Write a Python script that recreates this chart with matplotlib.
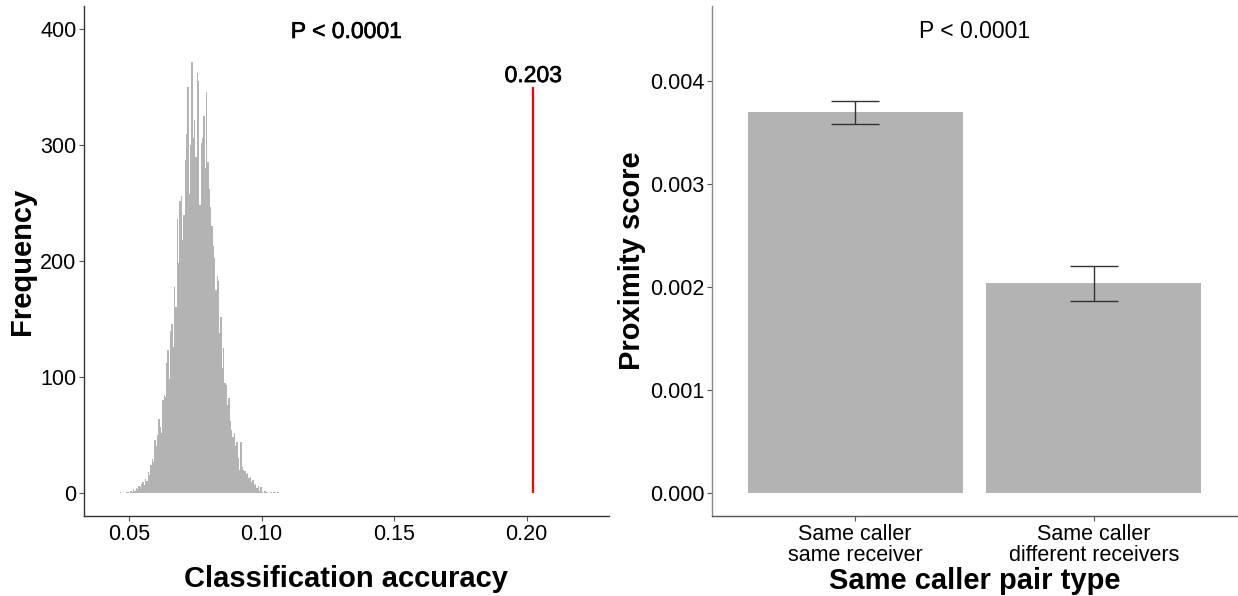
import matplotlib
matplotlib.use("Agg")
import matplotlib.pyplot as plt
import matplotlib.patheffects as pe
import numpy as np

plt.rcParams['font.family'] = ['Liberation Sans', 'DejaVu Sans']

# ---------------- data ----------------
hist_start = 0.0465
hist_binwidth = 0.0005
hist_counts = [
    1, 0, 0, 0, 0, 1, 1, 0, 2, 1,
    3, 2, 4, 3, 6, 5, 8, 9, 7, 12,
    10, 18, 15, 24, 29, 27, 46, 40, 50, 64,
    57, 52, 80, 84, 83, 112, 123, 98, 140, 146,
    126, 178, 160, 236, 198, 252, 256, 218, 240, 287,
    310, 350, 258, 300, 372, 306, 322, 290, 362, 355,
    248, 302, 306, 325, 280, 346, 285, 262, 247, 230,
    213, 203, 175, 187, 183, 138, 152, 108, 125, 95,
    93, 76, 82, 62, 54, 48, 52, 40, 44, 30,
    20, 44, 22, 20, 19, 16, 17, 13, 14, 9,
    11, 7, 8, 4, 6, 2, 5, 1, 0, 2,
    1, 1, 0, 1, 1, 0, 1, 1, 0, 1,
]
observed_accuracy = 0.2025
observed_label = "0.203"
observed_line_top = 350
left_ticks_x = [0.05, 0.10, 0.15, 0.20]
left_ticks_y = [0, 100, 200, 300, 400]

categories = ["Same caller\nsame receiver", "Same caller\ndifferent receivers"]
prox_means = [0.003694, 0.002040]
prox_low = [0.003582, 0.001862]
prox_high = [0.003805, 0.002205]
right_ticks_y = [0.000, 0.001, 0.002, 0.003, 0.004]

p_text = "P < 0.0001"

# ---------------- figure ----------------
W, H = 1238, 596
fig = plt.figure(figsize=(W / 100, H / 100), dpi=100)

bar_color = '#b3b3b3'
tick_fs = 15.5
title_fs = 21

# Left panel
axL = fig.add_axes([84 / W, (H - 516) / H, 525 / W, 510 / H])
centers = hist_start + hist_binwidth * (np.arange(len(hist_counts)) + 0.5)
axL.bar(centers, hist_counts, width=hist_binwidth, color=bar_color, linewidth=0, align='center')
axL.vlines(observed_accuracy, 0, observed_line_top, color='red', linewidth=1.6)
thick = [pe.withStroke(linewidth=0.45, foreground='black')]
axL.text(observed_accuracy, 360, observed_label, ha='center', va='center',
         fontsize=16.5, color='black', path_effects=thick)
axL.text(0.132, 398, p_text, ha='center', va='center', fontsize=16.5, color='black',
         path_effects=thick)
axL.set_xlim(0.0330, 0.2311)
axL.set_ylim(-20, 420)
axL.set_xticks(left_ticks_x)
axL.set_xticklabels([f"{t:.2f}" for t in left_ticks_x])
axL.set_yticks(left_ticks_y)
axL.set_xlabel("Classification accuracy", fontsize=title_fs, fontweight='bold', labelpad=15)
axL.set_ylabel("Frequency", fontsize=title_fs, fontweight='bold', labelpad=3)

# Right panel
axR = fig.add_axes([712 / W, (H - 516) / H, 525 / W, 510 / H])
xpos = np.arange(1, len(categories) + 1)
axR.bar(xpos, prox_means, width=0.9, color=bar_color, linewidth=0)
err_col = '#333333'
axR.vlines(xpos, prox_low, prox_high, color=err_col, linewidth=1.0)
axR.hlines(prox_low, xpos - 0.1, xpos + 0.1, color=err_col, linewidth=1.0)
axR.hlines(prox_high, xpos - 0.1, xpos + 0.1, color=err_col, linewidth=1.0)
axR.text(1.5, 0.00448, p_text, ha='center', va='center', fontsize=16.5, color='black')
axR.set_xlim(0.4, 2.6)
axR.set_ylim(-0.000225, 0.004725)
axR.set_xticks(xpos)
axR.set_xticklabels(categories, linespacing=1.0)
axR.set_yticks(right_ticks_y)
axR.set_yticklabels([f"{t:.3f}" for t in right_ticks_y])
axR.set_xlabel("Same caller pair type", fontsize=title_fs, fontweight='bold', labelpad=1)
axR.set_ylabel("Proximity score", fontsize=title_fs, fontweight='bold', labelpad=3)

for ax, lc, bc in [(axL, '#333333', '#333333'), (axR, '#888888', '#555555')]:
    ax.spines['top'].set_visible(False)
    ax.spines['right'].set_visible(False)
    ax.spines['left'].set_color(lc)
    ax.spines['bottom'].set_color(bc)
    ax.spines['left'].set_linewidth(1.0)
    ax.spines['bottom'].set_linewidth(1.0)
    ax.tick_params(axis='both', which='both', direction='out', length=3.5, width=0.8,
                   colors='#555555', labelcolor='black', labelsize=tick_fs, pad=2)
    ax.set_facecolor('white')

fig.savefig("out.png", dpi=100, facecolor='white')
